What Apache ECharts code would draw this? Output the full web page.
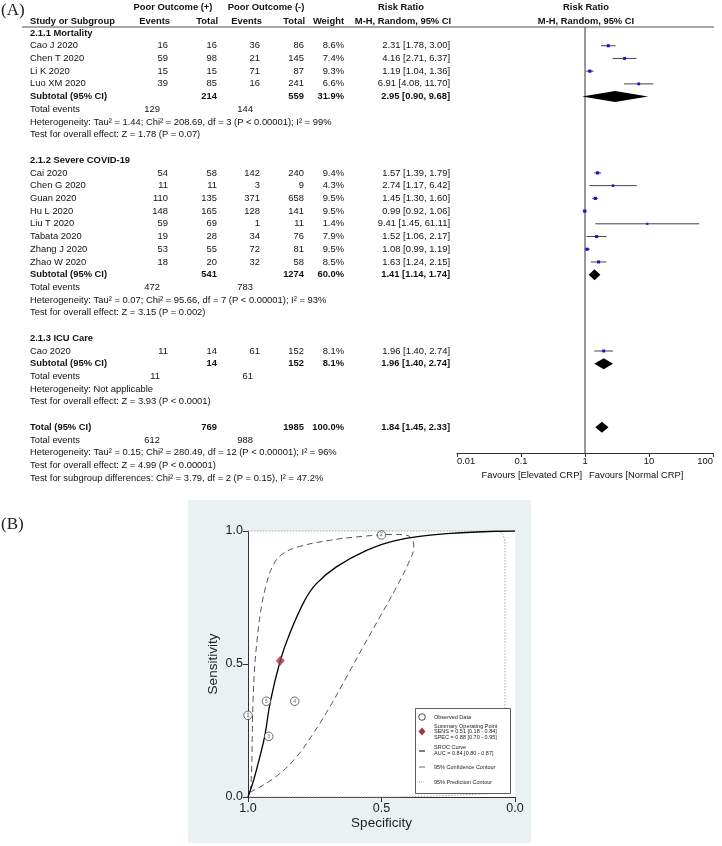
<!DOCTYPE html>
<html>
<head>
<meta charset="utf-8">
<script src="https://cdn.jsdelivr.net/npm/echarts@6/dist/echarts.min.js"></script>
<style>html,body{margin:0;padding:0;background:#fff}#c{width:722px;height:846px}</style>
</head>
<body>
<div id="c"></div>
<script>
// ---------- Panel A data ----------
const studies = ['Cao J 2020','Chen T 2020','Li K 2020','Luo XM 2020','Cai 2020','Chen G 2020','Guan 2020','Hu L 2020','Liu T 2020','Tabata 2020','Zhang J 2020','Zhao W 2020','Cao 2020'];
const studyGroup = [0,0,0,0,1,1,1,1,1,1,1,1,2];
const eventsPos = [16,59,15,39,54,11,110,148,59,19,53,18,11];
const totalPos  = [16,98,15,85,58,11,135,165,69,28,55,20,14];
const eventsNeg = [36,21,71,16,142,3,371,128,1,34,72,32,61];
const totalNeg  = [86,145,87,241,240,9,658,141,11,76,81,58,152];
const weights   = [8.6,7.4,9.3,6.6,9.4,4.3,9.5,9.5,1.4,7.9,9.5,8.5,8.1];
const rr        = [2.31,4.16,1.19,6.91,1.57,2.74,1.45,0.99,9.41,1.52,1.08,1.63,1.96];
const rrLo      = [1.78,2.71,1.04,4.08,1.39,1.17,1.30,0.92,1.45,1.06,0.99,1.24,1.40];
const rrHi      = [3.00,6.37,1.36,11.70,1.79,6.42,1.60,1.06,61.11,2.17,1.19,2.15,2.74];

const groupNames = ['2.1.1 Mortality','2.1.2 Severe COVID-19','2.1.3 ICU Care'];
const subTotalPos = [214,541,14];
const subTotalNeg = [559,1274,152];
const subWeight = [31.9,60.0,8.1];
const subRR = [2.95,1.41,1.96];
const subLo = [0.90,1.14,1.40];
const subHi = [9.68,1.74,2.74];
const subEventsPos = [129,472,11];
const subEventsNeg = [144,783,61];
const hetTexts = ['Heterogeneity: Tau² = 1.44; Chi² = 208.69, df = 3 (P < 0.00001); I² = 99%',
                  'Heterogeneity: Tau² = 0.07; Chi² = 95.66, df = 7 (P < 0.00001); I² = 93%',
                  'Heterogeneity: Not applicable'];
const effectTexts = ['Test for overall effect: Z = 1.78 (P = 0.07)',
                     'Test for overall effect: Z = 3.15 (P = 0.002)',
                     'Test for overall effect: Z = 3.93 (P < 0.0001)'];
const overallTotals = [769,1985];
const overallWeight = 100.0;
const overallRR = [1.84,1.45,2.33];
const overallEvents = [612,988];
const overallTexts = ['Heterogeneity: Tau² = 0.15; Chi² = 280.49, df = 12 (P < 0.00001); I² = 96%',
                      'Test for overall effect: Z = 4.99 (P < 0.00001)',
                      'Test for subgroup differences: Chi² = 3.79, df = 2 (P = 0.15), I² = 47.2%'];
const forestTicks = ['0.01','0.1','1','10','100'];
const favourLabels = ['Favours [Elevated CRP]','Favours [Normal CRP]'];

// ---------- Panel B data ----------
const obsSpec = [1.0,0.50,0.9225,0.825,0.931];
const obsSens = [0.307,0.985,0.228,0.36,0.36];
const obsIds = ['1','2','3','4','5'];
const summarySpec = [0.879];
const summarySens = [0.512];
const srocSpec = [1.0,0.979,0.959,0.9375,0.916,0.879,0.844,0.7875,0.744,0.669,0.556,0.444,0.256,0.0];
const srocSens = [0.0,0.063,0.138,0.228,0.36,0.513,0.614,0.739,0.802,0.865,0.927,0.965,0.99,1.0];
const confSpec = [0.991,0.986,0.984,0.981,0.975,0.966,0.954,0.934,0.906,0.869,0.806,0.694,0.569,0.456,0.406,0.384,0.379,0.394,0.444,0.506,0.569,0.631,0.694,0.756,0.819,0.881,0.944,0.991];
const confSens = [0.019,0.113,0.238,0.363,0.489,0.589,0.689,0.789,0.871,0.915,0.942,0.965,0.98,0.987,0.984,0.967,0.94,0.89,0.789,0.677,0.564,0.451,0.338,0.238,0.15,0.088,0.044,0.019];
const predSpec = [1.0,0.5,0.07,0.047,0.0375,0.0375,0.0375,0.045,0.07,0.11,0.5,1.0];
const predSens = [1.0,1.0,1.0,0.99,0.95,0.5,0.08,0.04,0.022,0.012,0.0,0.0];
const legendTexts = [['Observed Data'],['Summary Operating Point','SENS = 0.51 [0.18 - 0.84]','SPEC = 0.88 [0.70 - 0.95]'],['SROC Curve','AUC = 0.84 [0.80 - 0.87]'],['95% Confidence Contour'],['95% Prediction Contour']];

// ---------- layout ----------
const FF = '"Liberation Sans", Arial, sans-serif';
const FS = 9.4;
const row0 = 33, rowH = 12.72;
const rowY = r => row0 + r * rowH;
const colX = {ev1: 168, tot1: 217, ev2: 260, tot2: 304, w: 344, rr: 450, evTot1: 160, evTot2: 253};
const g = [];
function txt(s, x, y, opt) {
  opt = opt || {};
  const align = opt.align || 'left';
  g.push({type:'text', z: opt.z || 50, silent:true, style:{text:s, x:x, y:y,
    font:(opt.bold?'bold ':'') + (opt.size||FS) + 'px ' + (opt.family||FF),
    fill: opt.color||'#111', textAlign:align, align:align, textVerticalAlign:'middle', verticalAlign:'middle'}});
}
const fmtRR = (e,l,h) => e.toFixed(2)+' ['+l.toFixed(2)+', '+h.toFixed(2)+']';

// headers
txt('(A)', 1, 11, {family:'"Liberation Serif", "Times New Roman", serif', size:17, color:'#222'});
txt('(B)', 1, 525, {family:'"Liberation Serif", "Times New Roman", serif', size:17, color:'#222'});
txt('Poor Outcome (+)', 173, 7, {bold:true, align:'center'});
txt('Poor Outcome (-)', 266, 7, {bold:true, align:'center'});
txt('Risk Ratio', 401, 7, {bold:true, align:'center'});
txt('Risk Ratio', 586, 7, {bold:true, align:'center'});
txt('Study or Subgroup', 30, 21, {bold:true});
txt('Events', 170, 21, {bold:true, align:'right'});
txt('Total', 218, 21, {bold:true, align:'right'});
txt('Events', 262, 21, {bold:true, align:'right'});
txt('Total', 305, 21, {bold:true, align:'right'});
txt('Weight', 344, 21, {bold:true, align:'right'});
txt('M-H, Random, 95% CI', 403, 21, {bold:true, align:'center'});
txt('M-H, Random, 95% CI', 586, 21, {bold:true, align:'center'});
g.push({type:'line', z:50, silent:true, shape:{x1:22, y1:27, x2:714, y2:27}, style:{stroke:'#555', lineWidth:1}});

const forestData = [];
let r = 0;
for (let gi = 0; gi < groupNames.length; gi++) {
  txt(groupNames[gi], 30, rowY(r), {bold:true}); r++;
  for (let i = 0; i < studies.length; i++) {
    if (studyGroup[i] !== gi) continue;
    const y = rowY(r);
    txt(studies[i], 30, y);
    txt(String(eventsPos[i]), colX.ev1, y, {align:'right'});
    txt(String(totalPos[i]), colX.tot1, y, {align:'right'});
    txt(String(eventsNeg[i]), colX.ev2, y, {align:'right'});
    txt(String(totalNeg[i]), colX.tot2, y, {align:'right'});
    txt(weights[i].toFixed(1)+'%', colX.w, y, {align:'right'});
    txt(fmtRR(rr[i], rrLo[i], rrHi[i]), colX.rr, y, {align:'right'});
    forestData.push([rrLo[i], rrHi[i], rr[i], r, weights[i], 0]);
    r++;
  }
  let y = rowY(r);
  txt('Subtotal (95% CI)', 30, y, {bold:true});
  txt(String(subTotalPos[gi]), colX.tot1, y, {bold:true, align:'right'});
  txt(String(subTotalNeg[gi]), colX.tot2, y, {bold:true, align:'right'});
  txt(subWeight[gi].toFixed(1)+'%', colX.w, y, {bold:true, align:'right'});
  txt(fmtRR(subRR[gi], subLo[gi], subHi[gi]), colX.rr, y, {bold:true, align:'right'});
  forestData.push([subLo[gi], subHi[gi], subRR[gi], r, subWeight[gi], 1]);
  r++;
  y = rowY(r);
  txt('Total events', 30, y);
  txt(String(subEventsPos[gi]), colX.evTot1, y, {align:'right'});
  txt(String(subEventsNeg[gi]), colX.evTot2, y, {align:'right'});
  r++;
  txt(hetTexts[gi], 30, rowY(r)); r++;
  txt(effectTexts[gi], 30, rowY(r)); r++;
  r++; // blank
}
{
  let y = rowY(r);
  txt('Total (95% CI)', 30, y, {bold:true});
  txt(String(overallTotals[0]), colX.tot1, y, {bold:true, align:'right'});
  txt(String(overallTotals[1]), colX.tot2, y, {bold:true, align:'right'});
  txt(overallWeight.toFixed(1)+'%', colX.w, y, {bold:true, align:'right'});
  txt(fmtRR(overallRR[0], overallRR[1], overallRR[2]), colX.rr, y, {bold:true, align:'right'});
  forestData.push([overallRR[1], overallRR[2], overallRR[0], r, overallWeight, 1]);
  r++;
  y = rowY(r);
  txt('Total events', 30, y);
  txt(String(overallEvents[0]), colX.evTot1, y, {align:'right'});
  txt(String(overallEvents[1]), colX.evTot2, y, {align:'right'});
  r++;
  for (const s of overallTexts) { txt(s, 30, rowY(r)); r++; }
}
txt(favourLabels[0], 582, 475, {align:'right'});
txt(favourLabels[1], 589, 475, {align:'left'});

// Panel B background & legend
g.push({type:'rect', z:-100, silent:true, shape:{x:188, y:500, width:343, height:343}, style:{fill:'#e9f1f3'}});
g.push({type:'rect', z:-99, silent:true, shape:{x:248, y:531, width:267, height:266}, style:{fill:'#ffffff'}});
g.push({type:'rect', z:60, silent:true, shape:{x:415.5, y:708.5, width:95, height:85}, style:{fill:'#fff', stroke:'#333', lineWidth:0.8}});
const LF = 5.5;
const lg = (s, x, y) => txt(s, x, y, {size:LF, color:'#222', z:70});
g.push({type:'circle', z:70, silent:true, shape:{cx:422, cy:717, r:3.3}, style:{fill:'#fff', stroke:'#222', lineWidth:0.8}});
lg(legendTexts[0][0], 434, 717);
g.push({type:'polygon', z:70, silent:true, shape:{points:[[422,727.5],[425.5,731.5],[422,735.5],[418.5,731.5]]}, style:{fill:'#a33a3f'}});
legendTexts[1].forEach((s,i)=>lg(s, 434, 726.5 + i*5.3));
g.push({type:'line', z:70, silent:true, shape:{x1:419, y1:751, x2:425, y2:751}, style:{stroke:'#000', lineWidth:1}});
legendTexts[2].forEach((s,i)=>lg(s, 434, 747.5 + i*5.5));
g.push({type:'line', z:70, silent:true, shape:{x1:419, y1:767, x2:425, y2:767}, style:{stroke:'#444', lineWidth:0.8}});
lg(legendTexts[3][0], 434, 767);
g.push({type:'line', z:70, silent:true, shape:{x1:419, y1:782, x2:425, y2:782}, style:{stroke:'#999', lineWidth:0.8, lineDash:[1,1]}});
lg(legendTexts[4][0], 434, 782);

const chart = echarts.init(document.getElementById('c'), null, {renderer:'canvas'});
const zip = (a,b) => a.map((v,i)=>[v,b[i]]);
chart.setOption({
  animation:false,
  backgroundColor:'#fff',
  textStyle:{fontFamily:FF},
  grid:[
    {left:457, right:9, top:27, bottom:393},
    {left:248, width:267, top:531, height:266}
  ],
  xAxis:[
    {gridIndex:0, type:'log', logBase:10, min:0.01, max:100, position:'bottom',
     axisLine:{show:true, onZero:false, lineStyle:{color:'#333', width:1}},
     axisTick:{show:true, inside:false, length:4, lineStyle:{color:'#333'}},
     minorTick:{show:false},
     axisLabel:{fontSize:FS, color:'#111', margin:4, fontFamily:FF, alignMinLabel:'left', alignMaxLabel:'right',
       formatter: v => forestTicks[Math.round(Math.log10(v)) + 2] || ''},
     splitLine:{show:false}},
    {gridIndex:1, type:'value', inverse:true, min:0, max:1, interval:0.5,
     axisLine:{show:true, onZero:false, lineStyle:{color:'#333', width:1}},
     axisTick:{show:true, length:5, lineStyle:{color:'#333'}},
     axisLabel:{fontSize:12.5, color:'#222', margin:5, formatter: v => v.toFixed(1)},
     splitLine:{show:false},
     name:'Specificity', nameLocation:'middle', nameGap:19, nameTextStyle:{fontSize:13.5, color:'#222'}}
  ],
  yAxis:[
    {gridIndex:0, type:'value', inverse:true, min:(27-row0)/rowH, max:(453-row0)/rowH, show:false},
    {gridIndex:1, type:'value', min:0, max:1, interval:0.5,
     axisLine:{show:true, onZero:false, lineStyle:{color:'#333', width:1}},
     axisTick:{show:true, length:5, lineStyle:{color:'#333'}},
     axisLabel:{fontSize:12.5, color:'#222', margin:5, formatter: v => v.toFixed(1)},
     splitLine:{show:false},
     name:'Sensitivity', nameLocation:'middle', nameGap:28, nameTextStyle:{fontSize:13.5, color:'#222'}}
  ],
  graphic:{elements:g},
  series:[
    {type:'line', xAxisIndex:0, yAxisIndex:0, data:[[1,(27-row0)/rowH],[1,(453-row0)/rowH]],
     showSymbol:false, symbol:'none', lineStyle:{color:'#333', width:1}, silent:true, z:3},
    {type:'custom', xAxisIndex:0, yAxisIndex:0, data:forestData, encode:{x:[0,1,2], y:3}, z:5, silent:true,
     renderItem:(params, api) => {
       const lo = api.value(0), hi = api.value(1), est = api.value(2), rw = api.value(3), w = api.value(4), kind = api.value(5);
       const a = api.coord([lo, rw]), b = api.coord([hi, rw]), c = api.coord([est, rw]);
       if (kind === 1) {
         return {type:'polygon', shape:{points:[[a[0],a[1]],[c[0],c[1]-5.5],[b[0],b[1]],[c[0],c[1]+5.5]]}, style:{fill:'#000'}};
       }
       const s = 2 + w * 0.12;
       return {type:'group', children:[
         {type:'line', shape:{x1:a[0], y1:a[1], x2:b[0], y2:b[1]}, style:{stroke:'#444', lineWidth:1}},
         {type:'rect', shape:{x:c[0]-s/2, y:c[1]-s/2, width:s, height:s}, style:{fill:'#1010e0'}}
       ]};
     }},
    {type:'line', xAxisIndex:1, yAxisIndex:1, data:zip(predSpec,predSens), smooth:0.3, showSymbol:false, symbol:'none',
     lineStyle:{color:'#aaa', width:1, type:[1.5,1.5]}, silent:true, z:3, clip:false},
    {type:'line', xAxisIndex:1, yAxisIndex:1, data:zip(confSpec,confSens), smooth:0.4, showSymbol:false, symbol:'none',
     lineStyle:{color:'#555', width:1, type:[6,4]}, silent:true, z:4},
    {type:'line', xAxisIndex:1, yAxisIndex:1, data:zip(srocSpec,srocSens), smooth:0.4, showSymbol:false, symbol:'none',
     lineStyle:{color:'#000', width:1.3}, silent:true, z:5},
    {type:'scatter', xAxisIndex:1, yAxisIndex:1, data:zip(obsSpec,obsSens).map((p,i)=>({value:p, name:obsIds[i]})),
     symbol:'circle', symbolSize:8.5, clip:false,
     itemStyle:{color:'#fff', borderColor:'#333', borderWidth:0.9},
     label:{show:true, position:'inside', formatter:p=>p.name, fontSize:5, color:'#333'}, z:6, silent:true},
    {type:'scatter', xAxisIndex:1, yAxisIndex:1, data:zip(summarySpec,summarySens),
     symbol:'diamond', symbolSize:[9,10], itemStyle:{color:'#a33a3f'}, z:7, silent:true}
  ]
});
</script>
</body>
</html>
